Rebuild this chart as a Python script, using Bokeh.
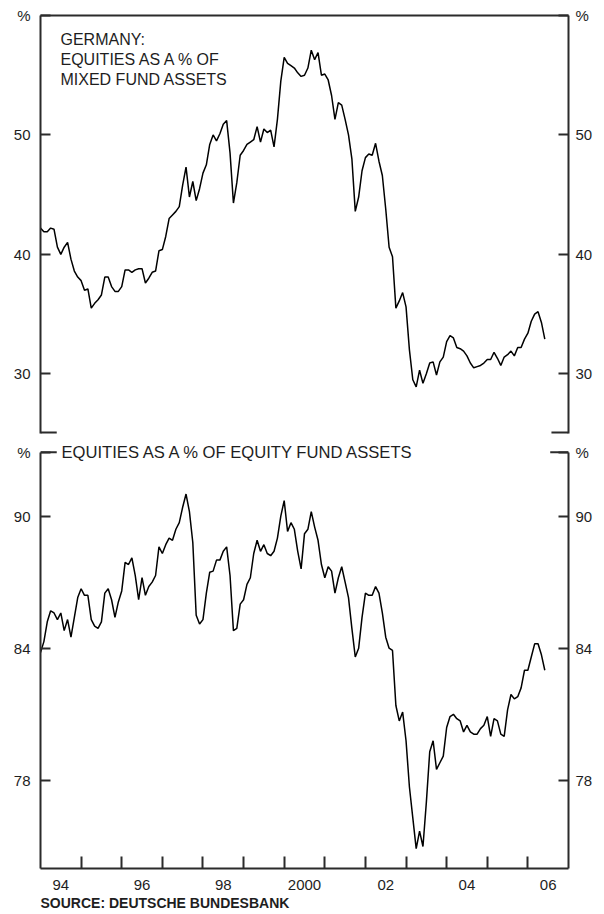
from bokeh.plotting import figure
from bokeh.models import LinearAxis, FixedTicker, Label, Range1d, Title
from bokeh.layouts import column
from bokeh.embed import file_html
from bokeh.resources import INLINE

# ---------------- data (monthly, Jan 1994 - Jun 2006) ----------------
mixed_equity_share = [
    42.2, 41.9, 41.9, 42.2, 42.1, 40.6, 40.0, 40.6, 41.0, 39.6, 38.6, 38.1,
    37.8, 37.0, 37.1, 35.5, 35.9, 36.2, 36.6, 38.1, 38.1, 37.3, 36.9, 36.9,
    37.3, 38.7, 38.7, 38.5, 38.7, 38.8, 38.8, 37.6, 38.0, 38.5, 38.6, 40.3,
    40.4, 41.5, 43.0, 43.3, 43.6, 44.0, 45.8, 47.3, 44.8, 46.1, 44.5, 45.5,
    46.8, 47.5, 49.2, 50.0, 49.5, 50.1, 50.9, 51.2, 48.5, 44.3, 46.0, 48.3,
    48.7, 49.2, 49.4, 49.6, 50.7, 49.4, 50.5, 50.2, 50.4, 49.0, 51.3, 54.5,
    56.5, 56.0, 55.8, 55.6, 55.2, 54.9, 55.0, 55.6, 57.1, 56.3, 56.9, 55.0,
    55.1, 54.6, 53.3, 51.3, 52.7, 52.5, 51.3, 50.0, 48.0, 43.6, 44.8, 47.0,
    48.1, 48.4, 48.3, 49.3, 47.8, 46.6, 43.8, 40.6, 39.8, 35.5, 36.1, 36.8,
    35.6, 32.0, 29.5, 28.9, 30.3, 29.2, 30.0, 30.9, 31.0, 29.9, 31.0, 31.4,
    32.7, 33.2, 33.0, 32.2, 32.1, 31.9, 31.5, 30.9, 30.5, 30.6, 30.7, 30.9,
    31.2, 31.2, 31.8, 31.3, 30.7, 31.4, 31.6, 31.9, 31.5, 32.2, 32.2, 32.9,
    33.4, 34.4, 35.0, 35.2, 34.3, 32.9,
]
equity_fund_share = [
    83.8, 84.3, 85.2, 85.7, 85.6, 85.3, 85.6, 84.8, 85.3, 84.5, 85.4, 86.3,
    86.7, 86.4, 86.4, 85.3, 85.0, 84.9, 85.2, 86.5, 86.7, 86.2, 85.4, 86.1,
    86.6, 87.9, 87.8, 88.1, 87.3, 86.2, 87.2, 86.4, 86.8, 87.0, 87.3, 88.6,
    88.3, 88.7, 89.0, 88.9, 89.4, 89.7, 90.4, 91.0, 90.2, 88.8, 85.5, 85.1,
    85.3, 86.5, 87.45, 87.5, 88.0, 88.0, 88.4, 88.6, 87.3, 84.8, 84.9, 86.0,
    86.2, 86.9, 87.2, 88.3, 88.9, 88.4, 88.7, 88.3, 88.2, 88.4, 89.0, 90.0,
    90.7, 89.3, 89.7, 89.4, 88.4, 87.6, 89.2, 89.4, 90.2, 89.5, 88.9, 87.8,
    87.2, 87.7, 87.5, 86.5, 87.2, 87.7, 87.0, 86.3, 84.9, 83.6, 84.0, 85.4,
    86.5, 86.4, 86.4, 86.8, 86.5, 85.6, 84.5, 84.0, 83.9, 81.4, 80.7, 81.1,
    79.8, 77.7, 76.3, 74.9, 75.7, 75.0, 77.0, 79.3, 79.8, 78.5, 78.8, 79.1,
    80.4, 80.9, 81.0, 80.8, 80.7, 80.2, 80.5, 80.2, 80.1, 80.1, 80.35, 80.5,
    80.9, 80.0, 80.8, 80.7, 80.1, 80.0, 81.2, 81.9, 81.7, 81.8, 82.2, 83.0,
    83.0, 83.6, 84.2, 84.2, 83.7, 83.0,
]
start_year = 1994
months = [start_year + i / 12 for i in range(len(mixed_equity_share))]

x_label_years = [1994, 1996, 1998, 2000, 2002, 2004, 2006]
x_tick_labels = ["94", "96", "98", "2000", "02", "04", "06"]
x_boundaries = [1995, 1996, 1997, 1998, 1999, 2000, 2001, 2002, 2003, 2004, 2005, 2006]

top_yticks = [30, 40, 50]
bottom_yticks = [78, 84, 90]

top_title = "GERMANY:\nEQUITIES AS A % OF\nMIXED FUND ASSETS"
bottom_title = "EQUITIES AS A % OF EQUITY FUND ASSETS"
source_text = "SOURCE: DEUTSCHE BUNDESBANK"

# ---------------- styling ----------------
FONT = "Liberation Sans"
AXC = "#2b2b2b"
TXT = "#1e1e1e"
X0, X1 = 1994.0, 2007.0
TOP_Y = (25.0, 60.0)
BOT_TOP = 92.9          # top of the lower panel's box
BOT_Y = (74.0, 93.43)   # a little head-room so the title on the border is not clipped
W = 604


def style_y(ax, ticks, top, left, bounds=None):
    ax.ticker = FixedTicker(ticks=ticks + [top])
    ov = {t: str(t) for t in ticks}
    ov[top] = "%"
    ax.major_label_overrides = ov
    ax.minor_tick_line_color = None
    ax.major_tick_in = 10
    ax.major_tick_out = 0
    ax.major_tick_line_width = 2
    ax.major_tick_line_color = AXC
    ax.axis_line_width = 2
    ax.axis_line_color = AXC
    ax.major_label_text_font = FONT
    ax.major_label_text_font_size = "15px"
    ax.major_label_text_color = TXT
    ax.major_label_standoff = 10 if left else 7
    if bounds is not None:
        ax.bounds = bounds


def base_fig(height, yr, mbt, mbb, xloc):
    p = figure(width=W, height=height, output_backend="svg", toolbar_location=None,
               x_range=Range1d(X0, X1), y_range=Range1d(*yr),
               x_axis_location=xloc, min_border_left=40, min_border_right=36,
               min_border_top=mbt, min_border_bottom=mbb)
    p.outline_line_color = None
    p.grid.visible = False
    p.background_fill_color = "white"
    p.border_fill_color = "white"
    return p


# ---------------- top panel ----------------
p1 = base_fig(440, TOP_Y, 15, 7, None)
style_y(p1.yaxis[0], top_yticks, TOP_Y[1], True)
r1 = LinearAxis()
p1.add_layout(r1, "right")
style_y(r1, top_yticks, TOP_Y[1], False)
topb = LinearAxis(ticker=FixedTicker(ticks=[]), axis_line_width=2, axis_line_color=AXC,
                  major_label_text_font_size="0px", major_tick_line_color=None,
                  minor_tick_line_color=None, major_label_standoff=0)
p1.add_layout(topb, "above")
p1.line(months, mixed_equity_share, line_color="black", line_width=1.5)
p1.segment(x0=[X0, X1 - 0.42], y0=[TOP_Y[0]] * 2, x1=[X0 + 0.4, X1], y1=[TOP_Y[0]] * 2,
           line_color=AXC, line_width=4)
p1.add_layout(Label(x=X0, y=TOP_Y[1], x_offset=20, y_offset=-15, text=top_title,
                    text_font=FONT, text_font_size="16px", text_color=TXT,
                    text_baseline="top", text_align="left", text_line_height=1.2))

# ---------------- bottom panel ----------------
p2 = base_fig(473, BOT_Y, 0, 45, "below")
style_y(p2.yaxis[0], bottom_yticks, BOT_TOP, True, bounds=(BOT_Y[0], BOT_TOP))
r2 = LinearAxis()
p2.add_layout(r2, "right")
style_y(r2, bottom_yticks, BOT_TOP, False, bounds=(BOT_Y[0], BOT_TOP))
xa = p2.xaxis[0]
xa.ticker = FixedTicker(ticks=[y + 0.5 for y in x_label_years], minor_ticks=x_boundaries)
xa.major_label_overrides = {y + 0.5: t for y, t in zip(x_label_years, x_tick_labels)}
xa.major_tick_line_color = None
xa.minor_tick_in = 12
xa.minor_tick_out = 0
xa.minor_tick_line_width = 2
xa.minor_tick_line_color = AXC
xa.axis_line_width = 2
xa.axis_line_color = AXC
xa.major_label_text_font = FONT
xa.major_label_text_font_size = "15px"
xa.major_label_text_color = TXT
xa.major_label_standoff = 5
p2.line(months, equity_fund_share, line_color="black", line_width=1.5)
p2.segment(x0=[X0, X1 - 0.45], y0=[BOT_TOP] * 2, x1=[X0 + 0.4, X1], y1=[BOT_TOP] * 2,
           line_color=AXC, line_width=2)
p2.add_layout(Label(x=X0, y=BOT_TOP, x_offset=21, text=bottom_title,
                    text_font=FONT, text_font_size="16.6px", text_color=TXT,
                    text_baseline="middle", text_align="left"))
p2.add_layout(Title(text=source_text, align="left", standoff=0,
                    text_font=FONT, text_font_size="14px", text_font_style="bold",
                    text_color=TXT), "below")

layout = column(p1, p2, spacing=0)
open("out.html", "w").write(file_html(layout, INLINE))
